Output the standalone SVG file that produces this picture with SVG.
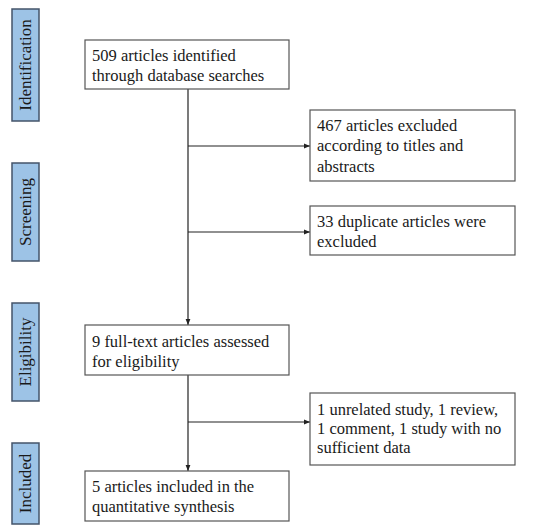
<svg xmlns="http://www.w3.org/2000/svg" width="552" height="532" viewBox="0 0 552 532">
<defs>
<style>
.stage rect{fill:#9dc3e6;stroke:#44546a;stroke-width:1.5}
.stage text{font-family:"Liberation Serif",serif;font-size:17px;fill:#1a1a1a;text-anchor:middle}
.box rect{fill:#fff;stroke:#555;stroke-width:1.2}
.box text{font-family:"Liberation Serif",serif;font-size:16.5px;fill:#1a1a1a}
.conn{stroke:#222;stroke-width:1.2;fill:none}
</style>
<marker id="ah" viewBox="0 0 10 10" refX="10" refY="5" markerWidth="6" markerHeight="6" markerUnits="userSpaceOnUse" orient="auto">
<path d="M0,1 L10,5 L0,9 Z" fill="#222"/>
</marker>
</defs>
<rect width="552" height="532" fill="#fff"/>
<g id="stage-identification" class="stage"><rect x="12" y="9" width="27" height="112"/><text transform="translate(31,65) rotate(-90)">Identification</text></g>
<g id="stage-screening" class="stage"><rect x="12" y="163" width="27" height="98"/><text transform="translate(31,212) rotate(-90)">Screening</text></g>
<g id="stage-eligibility" class="stage"><rect x="12" y="303" width="27" height="98"/><text transform="translate(31,352) rotate(-90)">Eligibility</text></g>
<g id="stage-included" class="stage"><rect x="12" y="443" width="27" height="81"/><text transform="translate(31,483.5) rotate(-90)">Included</text></g>
<g id="connectors">
<path class="conn" d="M188,89 V325" marker-end="url(#ah)"/>
<path class="conn" d="M188,146 H310" marker-end="url(#ah)"/>
<path class="conn" d="M188,232 H310" marker-end="url(#ah)"/>
<path class="conn" d="M188,375 V471" marker-end="url(#ah)"/>
<path class="conn" d="M188,422 H310" marker-end="url(#ah)"/>
</g>
<g id="n-identified" class="box"><rect x="85" y="40" width="204" height="49"/><text x="92" y="61">509 articles identified</text><text x="92" y="81">through database searches</text></g>
<g id="n-excluded-titles" class="box"><rect x="310" y="110" width="205" height="71"/><text x="317" y="131">467 articles excluded</text><text x="317" y="151">according to titles and</text><text x="317" y="172">abstracts</text></g>
<g id="n-duplicates" class="box"><rect x="310" y="206" width="205" height="49"/><text x="317" y="227">33 duplicate articles were</text><text x="317" y="247">excluded</text></g>
<g id="n-fulltext" class="box"><rect x="85" y="325" width="204" height="50"/><text x="92" y="347">9 full-text articles assessed</text><text x="92" y="367">for eligibility</text></g>
<g id="n-excluded-full" class="box"><rect x="310" y="393" width="205" height="72"/><text x="317" y="415">1 unrelated study, 1 review,</text><text x="317" y="434">1 comment, 1 study with no</text><text x="317" y="453">sufficient data</text></g>
<g id="n-included" class="box"><rect x="85" y="471" width="204" height="50"/><text x="92" y="492">5 articles included in the</text><text x="92" y="512">quantitative synthesis</text></g>
</svg>
